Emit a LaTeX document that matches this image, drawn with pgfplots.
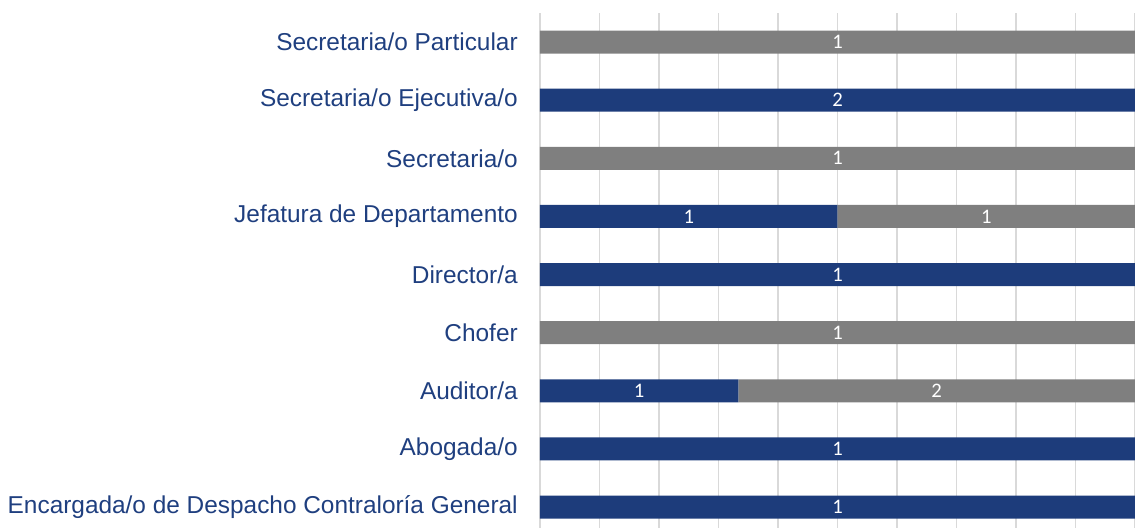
\documentclass[border=0pt]{standalone}
\usepackage{pgfplots}
\pgfplotsset{compat=1.18}
\usepackage{pgfplotstable}
\usepackage{fontspec}
\setmainfont{Liberation Sans}
\newfontfamily\carlito{Carlito}
\definecolor{barblue}{HTML}{1D3C7B}
\definecolor{bargray}{HTML}{7F7F7F}
\definecolor{txtblue}{HTML}{1F3F7F}
\definecolor{gridgray}{HTML}{D9D9D9}
\pgfplotstableread{
idx bc gc bp gp
0 1 0 100 0
1 1 0 100 0
2 1 2 33.333 66.667
3 0 1 0 100
4 1 0 100 0
5 1 1 50 50
6 0 1 0 100
7 2 0 100 0
8 0 1 0 100
}\datatable
\begin{document}
\begin{tikzpicture}
\begin{axis}[
  scale only axis, width=446.25pt, height=386.25pt,
  xbar stacked, bar width=0.396,
  xmin=0, xmax=100, ymin=-0.36, ymax=8.5,
  axis line style={draw=none},
  xtick={0,10,...,100}, xticklabels={},
  xmajorgrids, grid style={gridgray, line width=0.8pt},
  major tick length=0,
  ytick={0,...,8},
  yticklabels={Encargada/o de Despacho Contraloría General, Abogada/o, Auditor/a, Chofer, Director/a, Jefatura de Departamento, Secretaria/o, Secretaria/o Ejecutiva/o, Secretaria/o Particular},
  yticklabel style={font=\fontsize{18.3}{21}\selectfont, text=txtblue, inner sep=0pt, xshift=-16.5pt},
  point meta=explicit,
  /pgf/number format/assume math mode=true,
  nodes near coords={\pgfmathfloatifflags{\pgfplotspointmeta}{0}{}{\pgfmathprintnumber{\pgfplotspointmeta}}},
  every node near coord/.append style={white, font=\carlito\fontsize{15.5}{17}\selectfont},
  clip=true,
]
\addplot[fill=barblue, draw=none] table[x=bp, y=idx, meta=bc] {\datatable};
\addplot[fill=bargray, draw=none] table[x=gp, y=idx, meta=gc] {\datatable};
\end{axis}
\pgfresetboundingbox
\path[use as bounding box] ([xshift=-405pt]current axis.south west) rectangle ([yshift=9.75pt]current axis.north east);
\end{tikzpicture}
\end{document}
